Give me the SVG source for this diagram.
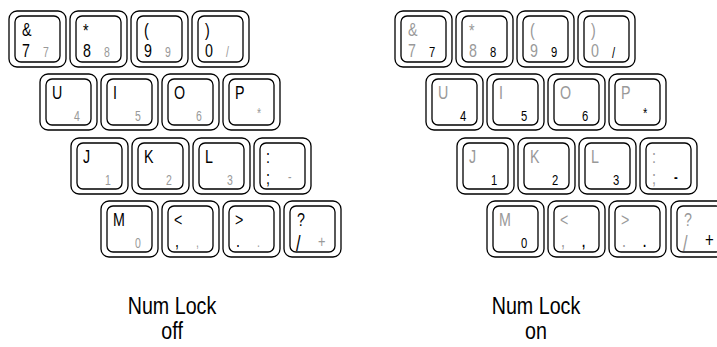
<svg xmlns="http://www.w3.org/2000/svg" xmlns:xlink="http://www.w3.org/1999/xlink" width="717" height="347" viewBox="0 0 717 347">
<style>
text{font-family:"Liberation Sans Narrow","Liberation Sans",Arial,sans-serif;transform-box:fill-box;transform-origin:0 0;transform:scaleX(0.75)}
.b{font-size:19px;fill:#000}
.g{font-size:19px;fill:#999}
.s{font-size:14px;fill:#999}
.n{font-size:15px;fill:#000}
.lab{font-size:24px;fill:#000;text-anchor:middle;transform-origin:50% 0;transform:scaleX(0.82)}
.k rect{fill:#fff;stroke:#000;stroke-width:1.3}
</style>
<defs>
<g id="key" class="k"><rect x="0" y="0" width="57" height="56" rx="8"/><rect x="6" y="5" width="45" height="46" rx="6"/></g>
</defs>
<rect width="717" height="347" fill="#fff"/>
<g id="numlock-off">
<g id="off-7" transform="translate(9,11)"><use href="#key"/><text class="b" x="13" y="25">&amp;</text><text class="b" x="13" y="46">7</text><text class="s" x="34" y="46">7</text></g>
<g id="off-8" transform="translate(70,11)"><use href="#key"/><text class="b" x="13" y="26">*</text><text class="b" x="13" y="46">8</text><text class="s" x="34" y="46">8</text></g>
<g id="off-9" transform="translate(131,11)"><use href="#key"/><text class="b" x="13" y="25">(</text><text class="b" x="13" y="46">9</text><text class="s" x="34" y="46">9</text></g>
<g id="off-0" transform="translate(192,11)"><use href="#key"/><text class="b" x="13" y="25">)</text><text class="b" x="13" y="46">0</text><text class="s" x="34" y="46">/</text></g>
<g id="off-u" transform="translate(40,74)"><use href="#key"/><text class="b" x="12" y="25">U</text><text class="s" x="34" y="47">4</text></g>
<g id="off-i" transform="translate(101,74)"><use href="#key"/><text class="b" x="12" y="25">I</text><text class="s" x="34" y="47">5</text></g>
<g id="off-o" transform="translate(162,74)"><use href="#key"/><text class="b" x="12" y="25">O</text><text class="s" x="34" y="47">6</text></g>
<g id="off-p" transform="translate(223,74)"><use href="#key"/><text class="b" x="12" y="25">P</text><text class="s" x="34" y="44">*</text></g>
<g id="off-j" transform="translate(71,138)"><use href="#key"/><text class="b" x="12" y="25">J</text><text class="s" x="34" y="47">1</text></g>
<g id="off-k" transform="translate(132,138)"><use href="#key"/><text class="b" x="12" y="25">K</text><text class="s" x="34" y="47">2</text></g>
<g id="off-l" transform="translate(193,138)"><use href="#key"/><text class="b" x="12" y="25">L</text><text class="s" x="34" y="47">3</text></g>
<g id="off-semi" transform="translate(254,138)"><use href="#key"/><text class="b" x="12" y="25">:</text><text class="b" x="12" y="46">;</text><text class="s" x="34" y="44">-</text></g>
<g id="off-m" transform="translate(101,201)"><use href="#key"/><text class="b" x="12" y="25">M</text><text class="s" x="34" y="47">0</text></g>
<g id="off-comma" transform="translate(162,201)"><use href="#key"/><text class="b" x="12" y="25">&lt;</text><text class="b" x="13" y="46">,</text><text class="s" x="34" y="46">,</text></g>
<g id="off-period" transform="translate(223,201)"><use href="#key"/><text class="b" x="12" y="25">&gt;</text><text class="b" x="13" y="46">.</text><text class="s" x="34" y="46">.</text></g>
<g id="off-slash" transform="translate(284,201)"><use href="#key"/><text class="b" x="13" y="25">?</text><text class="b" x="12" y="50" style="font-size:22px">/</text><text class="s" x="34" y="46" style="font-size:17px">+</text></g>
<text class="lab" x="172" y="314">Num Lock</text>
<text class="lab" x="172" y="339">off</text>
</g>
<g id="numlock-on">
<g id="on-7" transform="translate(395,11)"><use href="#key"/><text class="g" x="13" y="25">&amp;</text><text class="g" x="13" y="46">7</text><text class="n" x="34" y="46">7</text></g>
<g id="on-8" transform="translate(456,11)"><use href="#key"/><text class="g" x="13" y="26">*</text><text class="g" x="13" y="46">8</text><text class="n" x="34" y="46">8</text></g>
<g id="on-9" transform="translate(517,11)"><use href="#key"/><text class="g" x="13" y="25">(</text><text class="g" x="13" y="46">9</text><text class="n" x="34" y="46">9</text></g>
<g id="on-0" transform="translate(578,11)"><use href="#key"/><text class="g" x="13" y="25">)</text><text class="g" x="13" y="46">0</text><text class="n" x="34" y="47">/</text></g>
<g id="on-u" transform="translate(426,74)"><use href="#key"/><text class="g" x="12" y="25">U</text><text class="n" x="34" y="47">4</text></g>
<g id="on-i" transform="translate(487,74)"><use href="#key"/><text class="g" x="12" y="25">I</text><text class="n" x="34" y="47">5</text></g>
<g id="on-o" transform="translate(548,74)"><use href="#key"/><text class="g" x="12" y="25">O</text><text class="n" x="34" y="47">6</text></g>
<g id="on-p" transform="translate(609,74)"><use href="#key"/><text class="g" x="12" y="25">P</text><text class="n" x="34" y="44">*</text></g>
<g id="on-j" transform="translate(457,138)"><use href="#key"/><text class="g" x="12" y="25">J</text><text class="n" x="34" y="47">1</text></g>
<g id="on-k" transform="translate(518,138)"><use href="#key"/><text class="g" x="12" y="25">K</text><text class="n" x="34" y="47">2</text></g>
<g id="on-l" transform="translate(579,138)"><use href="#key"/><text class="g" x="12" y="25">L</text><text class="n" x="34" y="47">3</text></g>
<g id="on-semi" transform="translate(640,138)"><use href="#key"/><text class="g" x="12" y="25">:</text><text class="g" x="12" y="46">;</text><text class="n" x="34" y="44" style="font-weight:bold">-</text></g>
<g id="on-m" transform="translate(487,201)"><use href="#key"/><text class="g" x="12" y="25">M</text><text class="n" x="34" y="47">0</text></g>
<g id="on-comma" transform="translate(548,201)"><use href="#key"/><text class="g" x="12" y="25">&lt;</text><text class="g" x="13" y="46">,</text><text class="n" x="34" y="46" style="font-weight:bold">,</text></g>
<g id="on-period" transform="translate(609,201)"><use href="#key"/><text class="g" x="12" y="25">&gt;</text><text class="g" x="13" y="46">.</text><text class="n" x="34" y="46" style="font-weight:bold">.</text></g>
<g id="on-slash" transform="translate(671,201)"><use href="#key"/><text class="g" x="13" y="25">?</text><text class="g" x="12" y="50" style="font-size:22px">/</text><text class="n" x="34" y="46" style="font-size:20px">+</text></g>
<text class="lab" x="536" y="314">Num Lock</text>
<text class="lab" x="536" y="339">on</text>
</g>
</svg>
